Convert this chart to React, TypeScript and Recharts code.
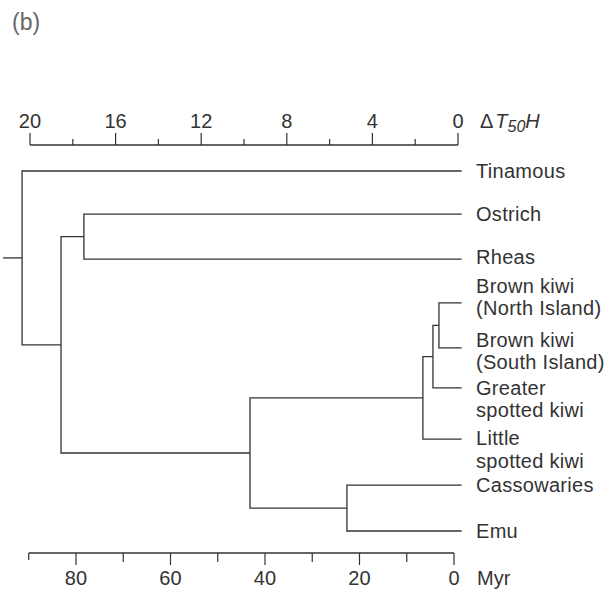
import { LineChart, Line, XAxis, YAxis, ReferenceLine } from "recharts";

const INK = "#333333";
const FONT = "'Liberation Sans', Arial, sans-serif";

// leaves, top to bottom, and their row positions
const leafKeys = ["tin", "ost", "rhe", "bkN", "bkS", "gsk", "lsk", "cas", "emu"];
const leafLabels = [
	"Tinamous",
	"Ostrich",
	"Rheas",
	"Brown kiwi\n(North Island)",
	"Brown kiwi\n(South Island)",
	"Greater\nspotted kiwi",
	"Little\nspotted kiwi",
	"Cassowaries",
	"Emu",
];
const leafRows = [0, 0.96, 1.96, 2.93, 3.93, 4.82, 5.96, 6.98, 8.0];
// where the first text line sits relative to the branch (px)
const labelShift = [7, 7, 5, -10, -1, 7, 6, 7, 7];

// internal nodes: children and ΔT50H height of the join
const nodeKeys = ["n1", "n2", "n3", "n4", "n5", "n6", "n7", "root"];
const nodeChildA = ["bkN", "n1", "n2", "cas", "n3", "ost", "n6", "tin"];
const nodeChildB = ["bkS", "gsk", "lsk", "emu", "n4", "rhe", "n5", "n7"];
const nodeHeights = [0.89, 1.17, 1.64, 5.19, 9.72, 17.48, 18.55, 20.37];
const leafTip = -0.17;
const rootStem = 21.26;

const dtTicks = [0, 2, 4, 6, 8, 10, 12, 14, 16, 18, 20];
const myrTicks = [0, 10, 20, 30, 40, 50, 60, 70, 80, 90];

const Y_DOMAIN: [number, number] = [-0.578, 8.489];

// positions of every leaf / node
const pos: Record<string, { x: number; y: number }> = {};
leafKeys.forEach((k, i) => (pos[k] = { x: leafTip, y: leafRows[i] }));
nodeKeys.forEach((k, i) => {
	const a = pos[nodeChildA[i]];
	const b = pos[nodeChildB[i]];
	pos[k] = { x: nodeHeights[i], y: (a.y + b.y) / 2 };
});

const branches = nodeKeys.map((k, i) => {
	const a = pos[nodeChildA[i]];
	const b = pos[nodeChildB[i]];
	const h = nodeHeights[i];
	return [
		{ x: a.x, y: a.y },
		{ x: h, y: a.y },
		{ x: h, y: b.y },
		{ x: b.x, y: b.y },
	];
});
const stem = [
	{ x: rootStem, y: pos.root.y },
	{ x: pos.root.x, y: pos.root.y },
];
// Myr scale bar along the bottom
const myrBar = [
	{ x: myrTicks[myrTicks.length - 1], y: Y_DOMAIN[1] },
	{ x: myrTicks[0], y: Y_DOMAIN[1] },
];

function TopTick(props: any) {
	const { x, y, payload } = props;
	const v = payload.value;
	const major = v % 4 === 0;
	return (
		<g>
			<line x1={x} x2={x} y1={y} y2={y - (major ? 12 : 6)} stroke={INK} strokeWidth={1.2} />
			{major && (
				<text x={x} y={y - 17} textAnchor="middle" fontSize={20} fill={INK} fontFamily={FONT}>
					{v}
				</text>
			)}
			{v === 0 && (
				<text x={x + 22} y={y - 17} fontSize={20} fill={INK} fontFamily={FONT}>
					<tspan>Δ</tspan>
					<tspan dx={2} fontStyle="italic">T</tspan>
					<tspan fontStyle="italic" fontSize={16} dy={4}>50</tspan>
					<tspan fontStyle="italic" dy={-4}>H</tspan>
				</text>
			)}
		</g>
	);
}

function BottomTick(props: any) {
	const { x, y, payload } = props;
	const v = payload.value;
	const major = v % 20 === 0;
	const len = v === 90 ? 7 : major ? 12 : 9;
	return (
		<g>
			<line x1={x} x2={x} y1={y} y2={y + len} stroke={INK} strokeWidth={1.2} />
			{major && (
				<text x={x} y={y + 32} textAnchor="middle" fontSize={20} fill={INK} fontFamily={FONT}>
					{v}
				</text>
			)}
			{v === 0 && (
				<text x={x + 23} y={y + 32} fontSize={20} fill={INK} fontFamily={FONT}>
					Myr
				</text>
			)}
		</g>
	);
}

function LeafLabel(props: any) {
	const { x, y, payload } = props;
	const i = leafRows.indexOf(payload.value);
	if (i < 0) return null;
	const lines = leafLabels[i].split("\n");
	return (
		<text
			x={x + 10}
			y={y + labelShift[i]}
			fontSize={20}
			letterSpacing={0.3}
			fill={INK}
			fontFamily={FONT}
		>
			{lines.map((t, j) => (
				<tspan key={j} x={x + 10} dy={j === 0 ? 0 : 22.5}>
					{t}
				</tspan>
			))}
		</text>
	);
}

export default function App() {
	return (
		<div style={{ position: "absolute", left: 0, top: 0, width: 607, height: 592, background: "#fff" }}>
			<div
				style={{
					position: "absolute",
					left: 12,
					top: 11,
					fontSize: 23,
					lineHeight: 1,
					color: "#666",
					fontFamily: FONT,
				}}
			>
				(b)
			</div>
			<LineChart width={607} height={592} margin={{ top: 0, right: 0, bottom: 0, left: 2 }}>
				<XAxis
					xAxisId="dt"
					orientation="top"
					type="number"
					dataKey="x"
					domain={[-0.374, 21.308]}
					reversed
					ticks={dtTicks}
					interval={0}
					height={145}
					axisLine={false}
					tickLine={false}
					tickSize={0}
					tickMargin={0}
					tick={(p: any) => <TopTick {...p} />}
				/>
				<XAxis
					xAxisId="myr"
					orientation="bottom"
					type="number"
					dataKey="x"
					domain={[-2.54, 95.66]}
					reversed
					ticks={myrTicks}
					interval={0}
					height={39}
					axisLine={false}
					tickLine={false}
					tickSize={0}
					tickMargin={0}
					tick={(p: any) => <BottomTick {...p} />}
				/>
				<YAxis
					orientation="right"
					type="number"
					dataKey="y"
					domain={Y_DOMAIN}
					reversed
					width={141}
					ticks={leafRows}
					interval={0}
					axisLine={false}
					tickLine={false}
					tickSize={0}
					tickMargin={0}
					tick={(p: any) => <LeafLabel {...p} />}
				/>
				<ReferenceLine
					xAxisId="dt"
					segment={[
						{ x: 20, y: Y_DOMAIN[0] },
						{ x: 0, y: Y_DOMAIN[0] },
					]}
					stroke={INK}
					strokeWidth={1.3}
				/>
				<Line
					xAxisId="myr"
					data={myrBar}
					dataKey="y"
					type="linear"
					stroke={INK}
					strokeWidth={1.3}
					dot={false}
					activeDot={false}
					isAnimationActive={false}
				/>
				{branches.map((d, i) => (
					<Line
						key={nodeKeys[i]}
						xAxisId="dt"
						data={d}
						dataKey="y"
						type="linear"
						stroke={INK}
						strokeWidth={1.3}
						dot={false}
						activeDot={false}
						isAnimationActive={false}
					/>
				))}
				<Line
					xAxisId="dt"
					data={stem}
					dataKey="y"
					type="linear"
					stroke={INK}
					strokeWidth={1.3}
					dot={false}
					activeDot={false}
					isAnimationActive={false}
				/>
			</LineChart>
		</div>
	);
}
